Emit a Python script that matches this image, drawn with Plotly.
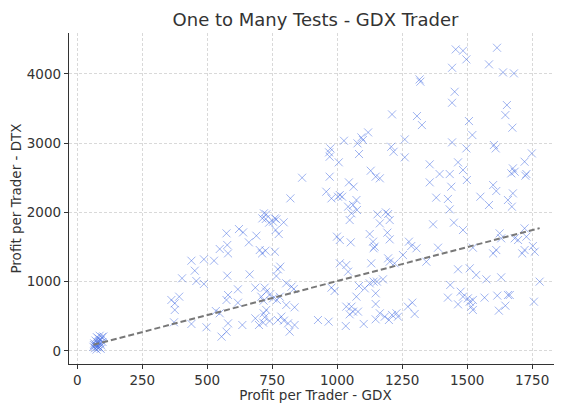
"""
    Scatter of profit per trader, GDX vs DTX, with a dashed trend line.
"""
import plotly.graph_objects as go

# profit per trader - GDX (x) and DTX (y), one entry per test
gdx_profit = [
    62, 65, 68, 70, 72, 74, 75, 78, 80, 82, 85, 86, 88, 90, 92, 95, 97, 100, 70, 80, 76, 84, 64, 90,
    865, 820, 718, 727, 712, 725, 738, 753, 766, 760, 794, 763, 775, 622, 638, 574, 689, 660, 577, 580,
    702, 711, 724, 760, 548, 439, 487, 526, 452, 458, 403, 487, 577, 663, 781, 772, 766, 804, 824, 833,
    618, 685, 721, 727, 743, 580, 574, 618, 708, 717, 753, 768, 362, 375, 392, 375, 372, 439, 497, 533,
    548, 580, 574, 555, 635, 685, 699, 715, 721, 740, 727, 717, 772, 785, 795, 811, 817, 836, 804, 836, 779,
    1456, 1484, 1497, 1615, 1584, 1442, 1638, 1680, 1317, 1320, 1452, 1442, 1653, 1647, 1674, 1507,
    1520, 1211, 1307, 1326, 1026, 1119, 1093, 1099, 1078, 1084, 1260, 1260, 1208, 1217, 1442, 1497,
    1603, 1610, 1749, 974, 969, 971, 1006, 971, 1045, 1063, 1129, 1148, 1164, 1356, 1356, 1394, 1433,
    1465, 1484, 1499, 1439, 1676, 1683, 1670, 1721, 1724, 1728, 1600, 1612, 1551, 1584, 1657, 1676,
    1672, 1381, 1426, 1433, 958, 978, 1003, 1010, 1019, 1042, 1061, 1074, 1055, 1048, 1076, 1155, 1187,
    1196, 1164, 1202, 1369, 1449, 1484, 1625, 1631, 1683, 1696, 1721, 1728, 999, 1010, 1052, 1125,
    1138, 1144, 1140, 1193, 1202, 1276, 1285, 1305, 1388, 1522, 1600, 1612, 1712, 1721, 1753, 1760,
    1253, 1196, 1202, 1221, 1131, 1343, 1010, 1035, 1042, 1465, 1510, 1535, 1574, 1631, 1779, 978, 990,
    1084, 1106, 1125, 1140, 1153, 1148, 1176, 1435, 1074, 1035, 1055, 1061, 1048, 1080, 1148, 1164,
    1183, 1199, 1211, 1228, 1234, 1272, 1289, 1298, 1148, 1102, 1033, 926, 967, 1426, 1475, 1484, 1465,
    1503, 1510, 1522, 1522, 1516, 1567, 1616, 1622, 1647, 1657, 1664, 1757,
]
dtx_profit = [
    60, 110, 40, 150, 90, 20, 200, 130, 70, 180, 50, 220, 110, 160, 80, 200, 130, 210, 75, 100, 55, 140, 85, 30,
    2501, 2203, 1987, 1972, 1914, 1905, 1852, 1866, 1900, 1914, 1857, 1746, 1688, 1760, 1712, 1698, 1664, 1568, 1530, 1409,
    1457, 1409, 1448, 1433, 1472, 1303, 1323, 1303, 1159, 1010, 1049, 967, 1087, 1106, 1217, 1178, 1082, 977, 928, 895,
    890, 914, 914, 856, 823, 808, 736, 697, 784, 726, 760, 736, 736, 688, 784, 592, 414, 390, 342, 577,
    544, 399, 279, 207, 375, 471, 375, 409, 486, 433, 592, 544, 447, 496, 438, 399, 279, 375, 664, 630, 784,
    4353, 4334, 4209, 4377, 4137, 4088, 4021, 4007, 3920, 3887, 3742, 3583, 3550, 3405, 3223, 3319,
    3117, 3415, 3391, 3261, 3035, 3155, 3083, 3045, 2997, 2843, 3054, 2795, 2948, 2876, 3011, 2924,
    2973, 2924, 2852, 2924, 2867, 2804, 2723, 2516, 2434, 2371, 2602, 2516, 2492, 2694, 2434, 2554, 2554,
    2723, 2612, 2468, 2371, 2636, 2588, 2564, 2732, 2530, 2554, 2395, 2309, 2227, 2107, 2179, 2275,
    2083, 2213, 2194, 2044, 2299, 2203, 2227, 2251, 2227, 2083, 2107, 2179, 1987, 1890, 2035, 1972, 2001,
    1977, 1842, 1890, 1828, 1852, 1746, 1698, 1626, 1626, 1602, 1770, 1650, 1650, 1602, 1568, 1688,
    1578, 1506, 1482, 1708, 1611, 1578, 1515, 1482, 1491, 1491, 1409, 1457, 1409, 1457, 1515, 1433,
    1385, 1337, 1289, 1265, 1265, 1289, 1265, 1241, 1145, 1179, 1193, 1097, 1034, 1063, 1001, 914, 866,
    938, 904, 976, 1001, 1001, 832, 1034, 953, 784, 640, 640, 568, 529, 568, 678, 544,
    495, 447, 520, 544, 495, 640, 698, 534, 457, 390, 361, 447, 423, 770, 856, 784, 673,
    760, 712, 736, 592, 640, 770, 799, 582, 654, 808, 808, 712,
]

# trend line
trend_slope = 0.981
trend_intercept = 28

trend_x = [min(gdx_profit), max(gdx_profit)]
trend_y = [trend_intercept + trend_slope * v for v in trend_x]

fig = go.Figure()

fig.add_trace(go.Scatter(
    x=gdx_profit,
    y=dtx_profit,
    mode="markers",
    marker=dict(
        symbol="x-thin",
        size=8,
        line=dict(width=1, color="rgba(65, 105, 225, 0.5)"),
    ),
    showlegend=False,
))

fig.add_trace(go.Scatter(
    x=trend_x,
    y=trend_y,
    mode="lines",
    line=dict(color="rgb(120, 120, 120)", width=2, dash="6px,3px"),
    showlegend=False,
))

axis_font = dict(family="DejaVu Sans", size=13.5, color="#333333")

# page body has an 8px margin, so the figure is drawn 8px smaller
fig_w, fig_h = 554, 395

fig.update_xaxes(
    title=dict(text="Profit per Trader - GDX", font=axis_font, standoff=2),
    automargin=False,
    range=[-32, 1865],
    tickvals=[0, 250, 500, 750, 1000, 1250, 1500, 1750],
    tickfont=axis_font,
    ticks="outside",
    ticklen=4,
    tickcolor="#333333",
    showline=True,
    linewidth=1.3,
    linecolor="#333333",
    showgrid=True,
    gridcolor="#d9d9d9",
    gridwidth=0.8,
    griddash="3px,2px",
    zeroline=False,
)

fig.update_yaxes(
    title=dict(text="Profit per Trader - DTX", font=axis_font, standoff=4),
    automargin=False,
    range=[-188, 4590],
    tickvals=[0, 1000, 2000, 3000, 4000],
    tickfont=axis_font,
    ticks="outside",
    ticklen=4,
    tickcolor="#333333",
    showline=True,
    linewidth=1.3,
    linecolor="#333333",
    showgrid=True,
    gridcolor="#d9d9d9",
    gridwidth=0.8,
    griddash="3px,2px",
    zeroline=False,
)

fig.update_layout(
    width=fig_w,
    height=fig_h,
    margin=dict(l=61, r=0, t=25, b=39),
    plot_bgcolor="white",
    paper_bgcolor="white",
    title=dict(
        text="One to Many Tests - GDX Trader",
        font=dict(family="DejaVu Sans", size=18, color="#333333"),
        x=(61 + fig_w) / 2 / fig_w,
        xanchor="center",
        y=1 - 12 / fig_h,
        yanchor="middle",
    ),
)

fig.write_html("out.html")
